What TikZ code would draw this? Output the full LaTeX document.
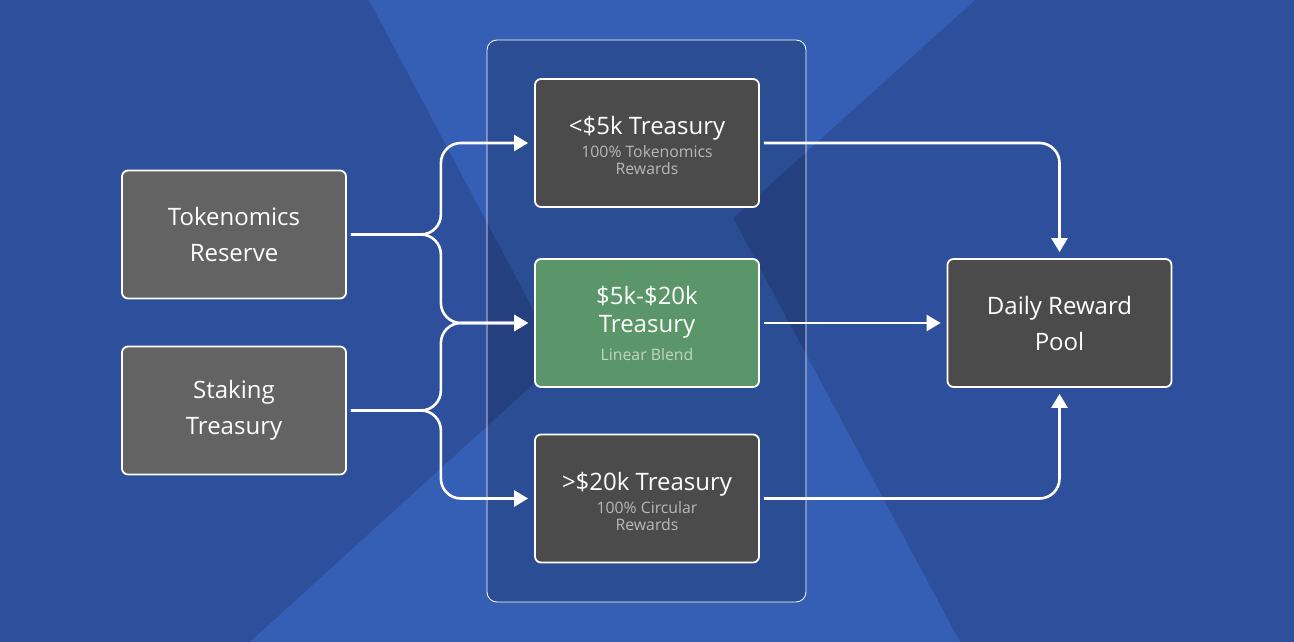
\documentclass[tikz,border=0pt]{standalone}
\usepackage{fontspec}
\setmainfont{Open Sans}
\usepackage{xcolor}
\usepackage{tikz}
\usetikzlibrary{arrows.meta,positioning}

\definecolor{bgdark}{HTML}{2E4F9B}
\definecolor{bglight}{HTML}{355EB5}
\definecolor{srcgray}{HTML}{636363}
\definecolor{tiergray}{HTML}{4B4B4B}
\definecolor{blendgreen}{HTML}{5A9669}
\definecolor{subgray}{HTML}{B8B8B8}
\definecolor{subgreen}{HTML}{C2D6C6}

\tikzset{
  card/.style={draw=white, line width=1.8pt, rounded corners=6pt, minimum width=224pt,
    minimum height=128pt, inner sep=0pt, align=center, text=white,
    font=\fontsize{24}{36}\selectfont},
  src/.style={card, fill=srcgray},
  tier/.style={card, fill=tiergray, font=\fontsize{24}{28}\selectfont},
  flow/.style={draw=white, line width=2.6pt, rounded corners=20pt,
    -{Triangle[length=14pt,width=16pt]}, shorten <=4pt, shorten >=6pt},
}
\newcommand{\subtxt}[2]{{\fontsize{15.8}{17}\selectfont\color{#1}#2}}

\begin{document}
\begin{tikzpicture}[x=1pt, y=-1pt]
\newcommand{\Xsrc}{234};
\newcommand{\Xtier}{647};
\newcommand{\Xpool}{1059.5};
\newcommand{\Ytop}{143};
\newcommand{\Ymid}{323};
\newcommand{\Ybot}{498.5};

% background
\fill[bgdark] (0, 0) rectangle (1294, 642);
\fill[bglight] (369, 0) -- (975, 0) -- (733, 218) -- (960, 642) -- (250, 642) -- (560, 360) -- cycle;
\draw[white, line width=0.8pt, fill=black, fill opacity=0.18, rounded corners=10pt] (487, 40) rectangle (806, 602);
%

% sources
\node[src] (tok) at (\Xsrc, 234.5) {Tokenomics\\Reserve};
\node[src] (stk) at (\Xsrc, 410.5) {Staking\\Treasury};

% treasury tiers
\node[tier] (low) at (\Xtier, \Ytop) {\rule{0pt}{24pt}<\$5k Treasury\\[-5pt]\subtxt{subgray}{100\% Tokenomics}\\[-11pt]\subtxt{subgray}{Rewards}};
\node[tier, fill=blendgreen] (mid) at (\Xtier, \Ymid) {\$5k-\$20k\\Treasury\\\subtxt{subgreen}{Linear Blend}};
\node[tier] (high) at (\Xtier, \Ybot) {\rule{0pt}{24pt}>\$20k Treasury\\[-5pt]\subtxt{subgray}{100\% Circular}\\[-11pt]\subtxt{subgray}{Rewards}};

% pool
\node[src, fill=tiergray] (pool) at (\Xpool, \Ymid) {Daily Reward\\Pool};
%

% connectors
\coordinate (forkT) at ([xshift=94pt]tok.east);
\coordinate (forkS) at ([xshift=94pt]stk.east);
\draw[flow] (tok.east) -- (forkT) |- (low.west);
\draw[flow] (tok.east) -- (forkT) |- (mid.west);
\draw[flow] (stk.east) -- (forkS) |- (mid.west);
\draw[flow] (stk.east) -- (forkS) |- (high.west);
\draw[flow] (low.east) -| (pool.north);
\draw[flow] (mid.east) -- (pool.west);
\draw[flow] (high.east) -| (pool.south);
%
\end{tikzpicture}
\end{document}
